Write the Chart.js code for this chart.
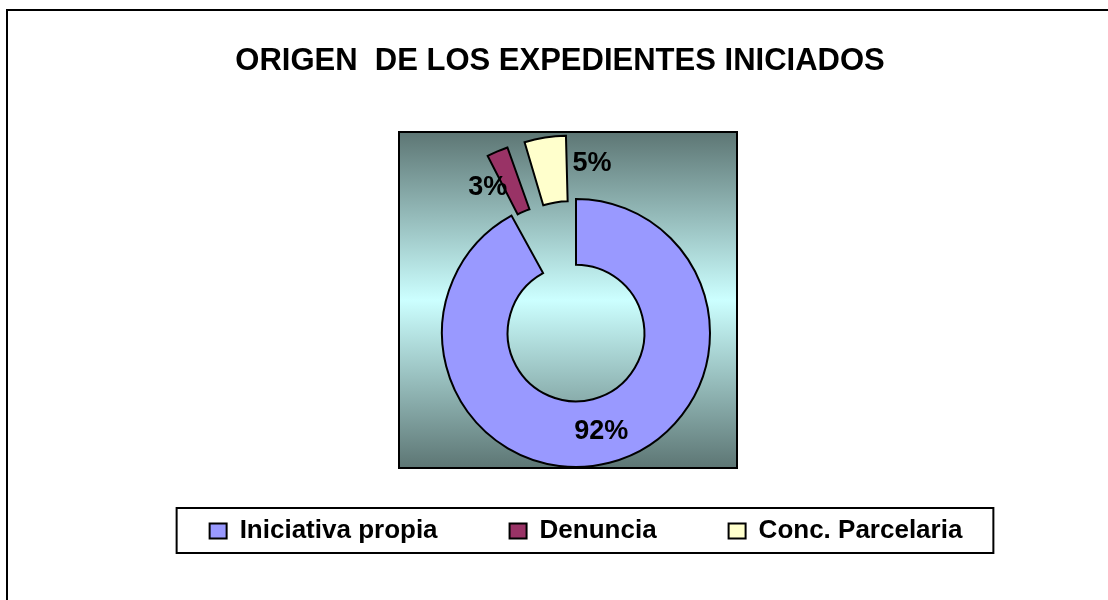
<!DOCTYPE html>
<html>
<head>
<meta charset="utf-8">
<script src="https://cdn.jsdelivr.net/npm/chart.js@4.4.1/dist/chart.umd.min.js"></script>
<style>
  html, body { margin: 0; padding: 0; background: #fff; }
  canvas { display: block; }
</style>
</head>
<body>
<canvas id="chart" width="1108" height="600"></canvas>
<script>
const titleText = 'ORIGEN  DE LOS EXPEDIENTES INICIADOS';
const categories = ['Iniciativa propia', 'Denuncia', 'Conc. Parcelaria'];
const values = [92, 3, 5];
const sliceColors = ['#9999ff', '#993366', '#ffffcc'];

const FONT = '"Liberation Sans", Arial, sans-serif';
const SPACER_W = 20; // empty box on the right so the ring sits left of the legend centre

// page frame, shaded plot box, title and the box round the legend
const decor = {
  id: 'decor',
  beforeDraw(chart, args, opts) {
    const ctx = chart.ctx;
    const b = opts.plotBox;
    ctx.save();
    ctx.fillStyle = '#fff';
    ctx.fillRect(0, 0, chart.width, chart.height);
    ctx.strokeStyle = '#000';
    ctx.lineWidth = 2;
    ctx.strokeRect(7, 10, chart.width + 20, chart.height + 20);
    const g = ctx.createLinearGradient(0, b.top, 0, b.bottom);
    g.addColorStop(0, '#5d7674');
    g.addColorStop(0.5, '#ccffff');
    g.addColorStop(1, '#5d7674');
    ctx.fillStyle = g;
    ctx.fillRect(b.left, b.top, b.right - b.left, b.bottom - b.top);
    ctx.strokeRect(b.left, b.top, b.right - b.left, b.bottom - b.top);
    ctx.restore();
  },
  afterDraw(chart, args, opts) {
    const ctx = chart.ctx;
    ctx.save();
    ctx.fillStyle = '#000';
    ctx.font = 'bold 31px ' + FONT;
    ctx.textAlign = 'center';
    ctx.textBaseline = 'alphabetic';
    ctx.fillText(titleText, opts.titleX, opts.titleY);

    const boxes = chart.legend.legendHitBoxes;
    if (boxes && boxes.length) {
      const left = Math.min(...boxes.map(h => h.left)) - 33;
      const right = Math.max(...boxes.map(h => h.left + h.width)) + 31;
      const top = Math.min(...boxes.map(h => h.top)) - 10;
      const bottom = Math.max(...boxes.map(h => h.top + h.height)) + 9;
      ctx.strokeStyle = '#000';
      ctx.lineWidth = 2;
      ctx.strokeRect(left, top, right - left, bottom - top);
    }
    ctx.restore();
  },
};

// percentage labels, placed from each arc's own geometry
const pctLabels = {
  id: 'pctLabels',
  afterDatasetsDraw(chart, args, opts) {
    const ctx = chart.ctx;
    const meta = chart.getDatasetMeta(0);
    const total = values.reduce((a, b) => a + b, 0);
    ctx.save();
    ctx.fillStyle = '#000';
    ctx.font = 'bold 27px ' + FONT;
    ctx.textAlign = 'center';
    ctx.textBaseline = 'middle';
    meta.data.forEach((arc, i) => {
      const p = arc.getProps(['x', 'y', 'startAngle', 'endAngle', 'innerRadius', 'outerRadius']);
      const s = opts.shift[i] || { angle: 0, dr: 0 };
      const a = (p.startAngle + p.endAngle) / 2 + s.angle * Math.PI / 180;
      const r = (p.innerRadius + p.outerRadius) / 2 + s.dr;
      const pct = Math.round(values[i] / total * 100) + '%';
      ctx.fillText(pct, p.x + Math.cos(a) * r, p.y + Math.sin(a) * r + 1);
    });
    ctx.restore();
  },
};

const sideSpacer = {
  id: 'sideSpacer',
  beforeInit(chart) {
    Chart.layouts.addBox(chart, {
      position: 'right',
      weight: 0,
      fullSize: false,
      options: {},
      width: 0,
      height: 0,
      isHorizontal() { return false; },
      update(maxWidth, maxHeight) { this.width = SPACER_W; this.height = maxHeight; },
      draw() {},
    });
  },
};

new Chart(document.getElementById('chart'), {
  type: 'doughnut',
  data: {
    labels: categories,
    datasets: [{
      data: values,
      backgroundColor: sliceColors,
      borderColor: '#000',
      borderWidth: 2,
      borderJoinStyle: 'miter',
      offset: [0, 141, 151],
    }],
  },
  options: {
    responsive: false,
    animation: false,
    events: [],
    radius: 134,
    cutout: '51%',
    layout: { padding: { top: 220, bottom: 46, left: 64, right: 0 } },
    plugins: {
      title: { display: false },
      tooltip: { enabled: false },
      legend: {
        position: 'bottom',
        align: 'center',
        labels: {
          color: '#000',
          font: { family: FONT, size: 26, weight: 'bold' },
          boxWidth: 17,
          boxHeight: 15,
          padding: 72,
        },
      },
      decor: {
        plotBox: { left: 399, top: 132, right: 737, bottom: 468 },
        titleX: 560,
        titleY: 69.5,
      },
      pctLabels: {
        shift: [{ angle: 0, dr: 0 }, { angle: -7.7, dr: 69.5 }, { angle: 14.4, dr: 70 }],
      },
    },
  },
  plugins: [sideSpacer, decor, pctLabels],
});
</script>
</body>
</html>
